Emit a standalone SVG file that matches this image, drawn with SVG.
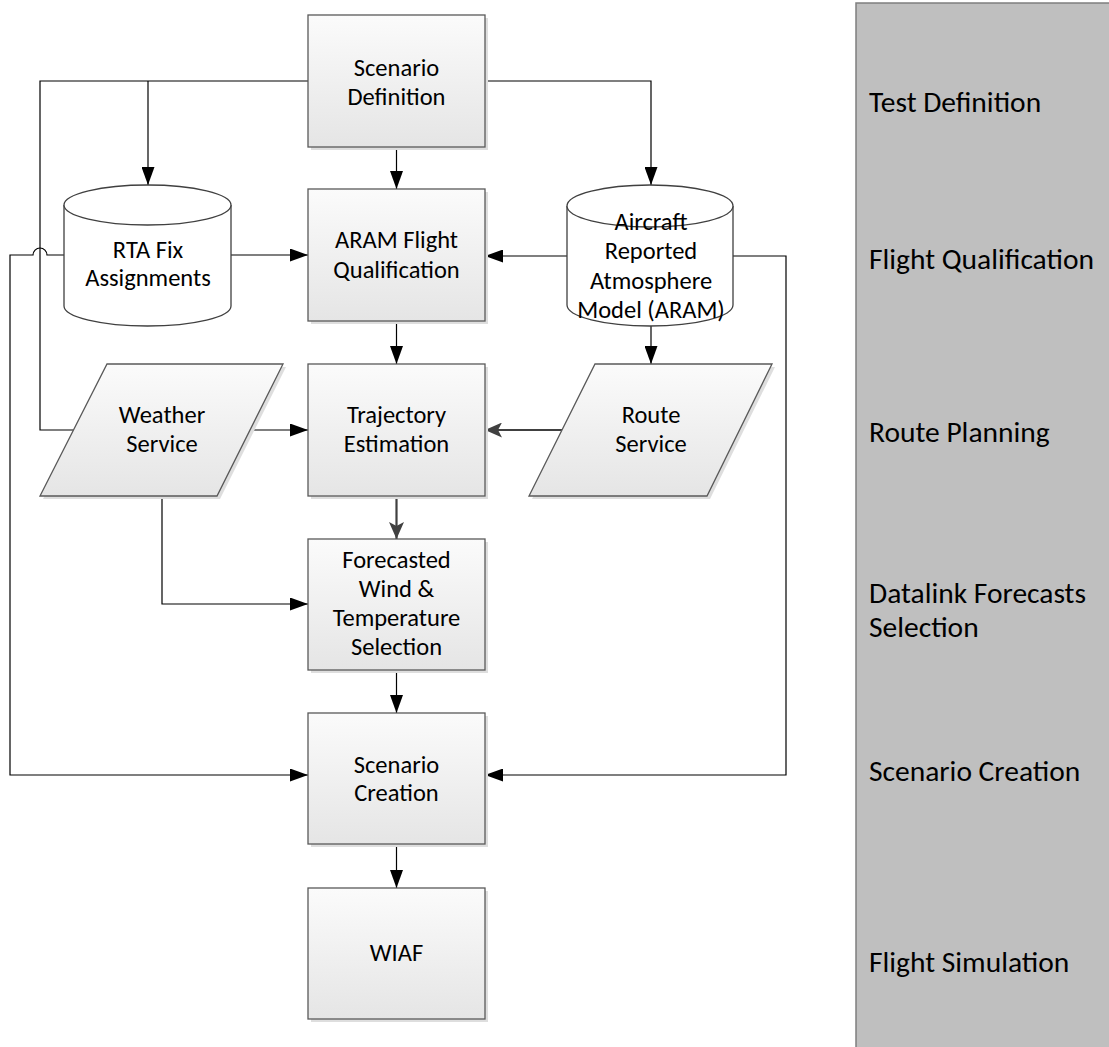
<svg xmlns="http://www.w3.org/2000/svg" width="1109" height="1047" viewBox="0 0 1109 1047">
<defs>
<linearGradient id="g" x1="0" y1="0" x2="0" y2="1">
<stop offset="0" stop-color="#fbfbfb"/>
<stop offset="1" stop-color="#e5e5e5"/>
</linearGradient>
<marker id="a" markerUnits="userSpaceOnUse" markerWidth="18" markerHeight="13" refX="18" refY="6.5" orient="auto">
<path d="M0,0 L18,6.5 L0,13 Z" fill="#000"/>
</marker>
<marker id="ag" markerUnits="userSpaceOnUse" markerWidth="17" markerHeight="15" refX="17" refY="7.5" orient="auto">
<path d="M0,0 L17,7.5 L0,15 L4,7.5 Z" fill="#404040"/>
</marker>
</defs>
<style>
.box{fill:url(#g);stroke:#595959;stroke-width:1.3}
.sh{fill:#dedede}
.cyl{fill:#fff;stroke:#404040;stroke-width:1.3}
.t{font-family:Calibri,Carlito,Lato,sans-serif;font-size:24.5px;fill:#000;text-anchor:middle}
.lb{font-family:Calibri,Carlito,Lato,sans-serif;font-size:29.5px;fill:#000}
.c{fill:none;stroke:#000;stroke-width:1.2}
.cg{fill:none;stroke:#404040;stroke-width:2.2}
</style>
<g id="lanes">
<rect x="856" y="3" width="260" height="1050" fill="#bfbfbf" stroke="#7f7f7f" stroke-width="1.5"/>
<text class="lb" x="869" y="112">Test Definition</text>
<text class="lb" x="869" y="269">Flight Qualification</text>
<text class="lb" x="869" y="442">Route Planning</text>
<text class="lb" x="869" y="603">Datalink Forecasts</text>
<text class="lb" x="869" y="637">Selection</text>
<text class="lb" x="869" y="781">Scenario Creation</text>
<text class="lb" x="869" y="972">Flight Simulation</text>
</g>
<g id="connectors">
<path class="c" d="M396.5,147 V189" marker-end="url(#a)"/>
<path class="c" d="M308,81 H40 V430 H73.5"/>
<path class="c" d="M148,81 V185" marker-end="url(#a)"/>
<path class="c" d="M485,81 H651 V185" marker-end="url(#a)"/>
<path class="c" d="M231,255 H308" marker-end="url(#a)"/>
<path class="c" d="M567,256 H485" marker-end="url(#a)"/>
<path class="c" d="M64,255 H47 A7,7 0 0 0 33,255 H10 V775 H308" marker-end="url(#a)"/>
<path class="c" d="M733,256 H786 V775 H485" marker-end="url(#a)"/>
<path class="c" d="M396.5,321 V364" marker-end="url(#a)"/>
<path class="c" d="M651,326 V364" marker-end="url(#a)"/>
<path class="c" d="M250,430 H308" marker-end="url(#a)"/>
<path class="cg" d="M562,430 H485" marker-end="url(#ag)"/>
<path class="cg" d="M396.5,496 V539" marker-end="url(#ag)"/>
<path class="c" d="M162,496 V604 H308" marker-end="url(#a)"/>
<path class="c" d="M396.5,670 V713" marker-end="url(#a)"/>
<path class="c" d="M396.5,844 V888" marker-end="url(#a)"/>
</g>
<g id="scenario-definition">
<rect class="sh" x="311" y="18" width="177" height="132"/>
<rect class="box" x="308" y="15" width="177" height="132"/>
<text class="t" x="396.5" y="75.5">Scenario</text>
<text class="t" x="396.5" y="104.5">Definition</text>
</g>
<g id="aram-flight-qualification">
<rect class="sh" x="311" y="192" width="177" height="132"/>
<rect class="box" x="308" y="189" width="177" height="132"/>
<text class="t" x="396.5" y="247.5">ARAM Flight</text>
<text class="t" x="396.5" y="277.5">Qualification</text>
</g>
<g id="rta-fix-assignments">
<path class="cyl" d="M64,205 A83.5,20 0 0 1 231,205 V306 A83.5,20 0 0 1 64,306 Z"/>
<path class="cyl" d="M64,205 A83.5,20 0 0 0 231,205" fill="none"/>
<text class="t" x="148" y="257.5">RTA Fix</text>
<text class="t" x="148" y="285.5">Assignments</text>
</g>
<g id="aram-model">
<path class="cyl" d="M567,206 A83,21 0 0 1 733,206 V305 A83,21 0 0 1 567,305 Z"/>
<path class="cyl" d="M567,206 A83,21 0 0 0 733,206" fill="none"/>
<text class="t" x="651" y="229.5">Aircraft</text>
<text class="t" x="651" y="258.5">Reported</text>
<text class="t" x="651" y="288.5">Atmosphere</text>
<text class="t" x="651" y="317.5">Model (ARAM)</text>
</g>
<g id="weather-service">
<path class="sh" d="M110,367 H286 L220,499 H43 Z"/>
<path class="box" d="M107,364 H283 L217,496 H40 Z"/>
<text class="t" x="162" y="422.5">Weather</text>
<text class="t" x="162" y="451.5">Service</text>
</g>
<g id="trajectory-estimation">
<rect class="sh" x="311" y="367" width="177" height="132"/>
<rect class="box" x="308" y="364" width="177" height="132"/>
<text class="t" x="396.5" y="422.5">Trajectory</text>
<text class="t" x="396.5" y="451.5">Estimation</text>
</g>
<g id="route-service">
<path class="sh" d="M598,367 H775 L710,499 H532 Z"/>
<path class="box" d="M595,364 H772 L707,496 H529 Z"/>
<text class="t" x="651" y="422.5">Route</text>
<text class="t" x="651" y="451.5">Service</text>
</g>
<g id="forecasted-selection">
<rect class="sh" x="311" y="542" width="177" height="131"/>
<rect class="box" x="308" y="539" width="177" height="131"/>
<text class="t" x="396.5" y="567.5">Forecasted</text>
<text class="t" x="396.5" y="596.5">Wind &amp;</text>
<text class="t" x="396.5" y="625.5">Temperature</text>
<text class="t" x="396.5" y="654.5">Selection</text>
</g>
<g id="scenario-creation">
<rect class="sh" x="311" y="716" width="177" height="131"/>
<rect class="box" x="308" y="713" width="177" height="131"/>
<text class="t" x="396.5" y="772.5">Scenario</text>
<text class="t" x="396.5" y="800.5">Creation</text>
</g>
<g id="wiaf">
<rect class="sh" x="311" y="891" width="177" height="131"/>
<rect class="box" x="308" y="888" width="177" height="131"/>
<text class="t" x="396.5" y="960.5">WIAF</text>
</g>
</svg>
